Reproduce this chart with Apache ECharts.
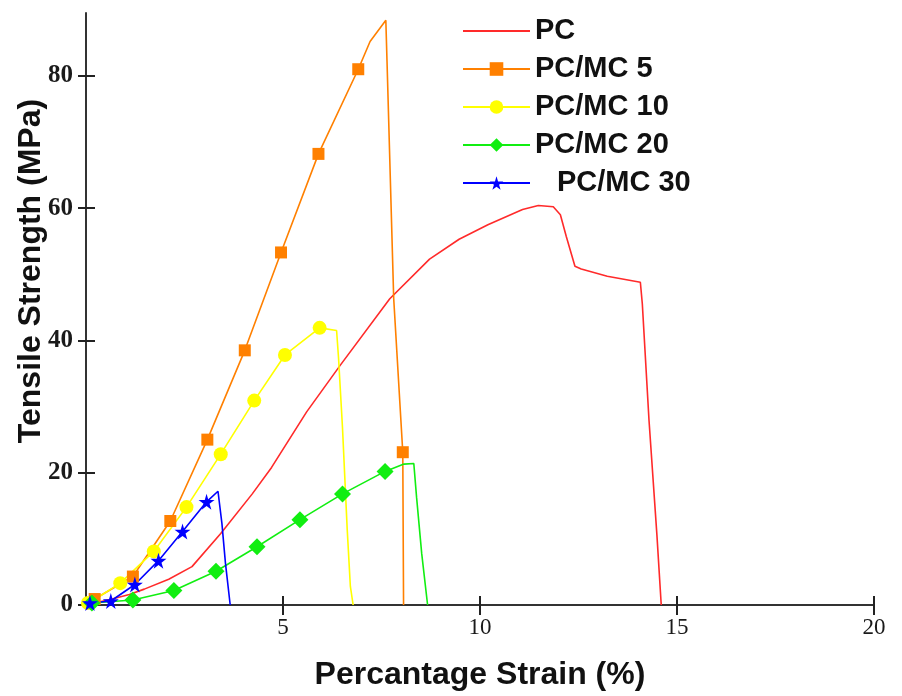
<!DOCTYPE html>
<html lang="en">
<head>
<meta charset="UTF-8">
<script src="https://cdn.jsdelivr.net/npm/echarts@6/dist/echarts.min.js"></script>
<title>Tensile Strength vs Strain</title>
<style>html,body{margin:0;padding:0;background:#fff;}</style>
</head>
<body>
<div id="main" style="width:902px;height:696px;"></div>
<script>
var xTicks = [5, 10, 15, 20];
var yTicks = [0, 20, 40, 60, 80];

// points are [strain %, strength MPa, 1 = draw marker]
var pc = [
    [0, 0], [0.66, 0.9], [1.1, 1.6], [1.48, 2.4], [2.1, 3.9], [2.69, 5.8], [3.42, 10.8], [4.22, 16.8],
    [4.71, 20.8], [5.6, 29.2], [6.46, 36.3], [7.71, 46.3], [8.72, 52.3],
    [9.47, 55.3], [10.2, 57.5], [11.08, 59.8], [11.48, 60.4], [11.86, 60.2],
    [12.04, 59.0], [12.19, 55.7], [12.41, 51.2], [12.57, 50.8], [13.23, 49.7],
    [14.07, 48.8], [14.12, 45.5], [14.29, 27.9], [14.49, 10.6], [14.6, 0]
];
var mc5 = [
    [0, 0], [0.22, 0.9, 1], [1.19, 4.3, 1], [2.14, 12.7, 1], [3.08, 25.0, 1],
    [4.03, 38.5, 1], [4.95, 53.3, 1], [5.9, 68.2, 1], [6.91, 81.0, 1],
    [7.21, 85.2], [7.61, 88.4], [7.64, 82.2], [7.81, 46.3], [8.04, 23.1, 1], [8.06, 0]
];
var mc10 = [
    [0, 0], [0.05, 0.3, 1], [0.87, 3.3, 1], [1.72, 8.1, 1], [2.55, 14.8, 1],
    [3.42, 22.8, 1], [4.27, 30.9, 1], [5.05, 37.8, 1], [5.93, 41.9, 1],
    [6.36, 41.5], [6.41, 37.3], [6.51, 26.8], [6.63, 11.4], [6.71, 2.8], [6.78, 0]
];
var mc20 = [
    [0, 0], [0.15, 0.3, 1], [1.19, 0.75, 1], [2.23, 2.2, 1], [3.3, 5.1, 1],
    [4.34, 8.8, 1], [5.43, 12.9, 1], [6.51, 16.8, 1], [7.59, 20.2, 1],
    [8.07, 21.3], [8.32, 21.4], [8.39, 16.3], [8.52, 7.8], [8.67, 0]
];
var mc30 = [
    [0, 0], [0.1, 0.3, 1], [0.63, 0.6, 1], [1.24, 3.1, 1], [1.84, 6.7, 1],
    [2.45, 11.1, 1], [3.06, 15.6, 1], [3.35, 17.2], [3.45, 12.3], [3.54, 6.3], [3.66, 0]
];

var star = 'path://M50,0 L61,35 L98,35 L68,57 L79,91 L50,70 L21,91 L32,57 L2,35 L39,35 Z';

function toData(arr) {
    return arr.map(function (p) {
        var d = { value: [p[0], p[1]] };
        if (!p[2]) d.symbol = 'none';
        return d;
    });
}

function mkSeries(name, arr, color, symbol, size) {
    return {
        name: name,
        type: 'line',
        data: toData(arr),
        symbol: symbol,
        symbolSize: size,
        showSymbol: true,
        lineStyle: { color: color, width: 1.6 },
        itemStyle: { color: color },
        emphasis: { disabled: true },
        clip: false,
        z: 3
    };
}

var myChart = echarts.init(document.getElementById('main'));

var labelFont = 'Liberation Serif';
var titleFont = 'Liberation Sans';

var option = {
    animation: false,
    backgroundColor: '#fff',
    grid: { left: 86, right: 28, top: 13, bottom: 86 },
    legend: {
        orient: 'vertical',
        left: 462,
        top: 16,
        padding: 0,
        itemWidth: 67,
        itemHeight: 17,
        itemGap: 8,
        selectedMode: false,
        data: [
            { name: 'PC', itemStyle: { opacity: 0 } },
            'PC/MC 5', 'PC/MC 10', 'PC/MC 20', 'PC/MC 30'
        ],
        formatter: function (name) {
            return name === 'PC/MC 30' ? '  \u2009' + name : name;
        },
        textStyle: {
            fontFamily: titleFont,
            fontWeight: 'bold',
            fontSize: 29,
            lineHeight: 30,
            color: '#111'
        }
    },
    graphic: [{
        type: 'text',
        x: 31,
        y: 271,
        rotation: Math.PI / 2,
        style: {
            text: 'Tensile Strength (MPa)',
            fontFamily: titleFont,
            fontWeight: 'bold',
            fontSize: 32,
            fill: '#111',
            align: 'center',
            verticalAlign: 'middle'
        }
    }],
    xAxis: [{
        type: 'value',
        min: 0,
        max: 20,
        position: 'bottom',
        name: 'Percantage Strain (%)',
        nameLocation: 'middle',
        nameGap: 54,
        nameTextStyle: {
            fontFamily: titleFont,
            fontWeight: 'bold',
            fontSize: 32,
            color: '#111'
        },
        axisLine: { lineStyle: { color: '#333', width: 2 } },
        axisTick: { customValues: xTicks, length: 10, lineStyle: { color: '#222', width: 2 } },
        axisLabel: {
            customValues: xTicks,
            margin: 11,
            fontFamily: labelFont,
            fontSize: 23,
            color: '#1a1a1a'
        },
        splitLine: { show: false }
    }, {
        type: 'value',
        min: 0,
        max: 20,
        position: 'bottom',
        axisLine: { show: false },
        axisTick: { inside: true, customValues: xTicks, length: 9, lineStyle: { color: '#222', width: 2 } },
        axisLabel: { show: false },
        splitLine: { show: false }
    }],
    yAxis: [{
        type: 'value',
        min: 0,
        max: 89.5,
        position: 'left',
        axisLine: { show: true, lineStyle: { color: '#333', width: 2 } },
        axisTick: { show: true, customValues: yTicks, length: 8, lineStyle: { color: '#222', width: 2 } },
        axisLabel: {
            customValues: yTicks,
            margin: 13,
            fontFamily: labelFont,
            fontWeight: 'bold',
            fontSize: 25,
            color: '#1a1a1a'
        },
        splitLine: { show: false }
    }, {
        type: 'value',
        min: 0,
        max: 89.5,
        position: 'left',
        axisLine: { show: false },
        axisTick: { show: true, inside: true, customValues: yTicks, length: 9, lineStyle: { color: '#222', width: 2 } },
        axisLabel: { show: false },
        splitLine: { show: false }
    }],
    series: [
        mkSeries('PC', pc, '#ff2a2a', 'none', 0),
        mkSeries('PC/MC 5', mc5, '#ff8000', 'rect', 12),
        mkSeries('PC/MC 10', mc10, '#ffff00', 'circle', 14),
        mkSeries('PC/MC 20', mc20, '#11ee11', 'diamond', 17),
        mkSeries('PC/MC 30', mc30, '#0000ff', star, 16)
    ]
};

myChart.setOption(option);
</script>
</body>
</html>
